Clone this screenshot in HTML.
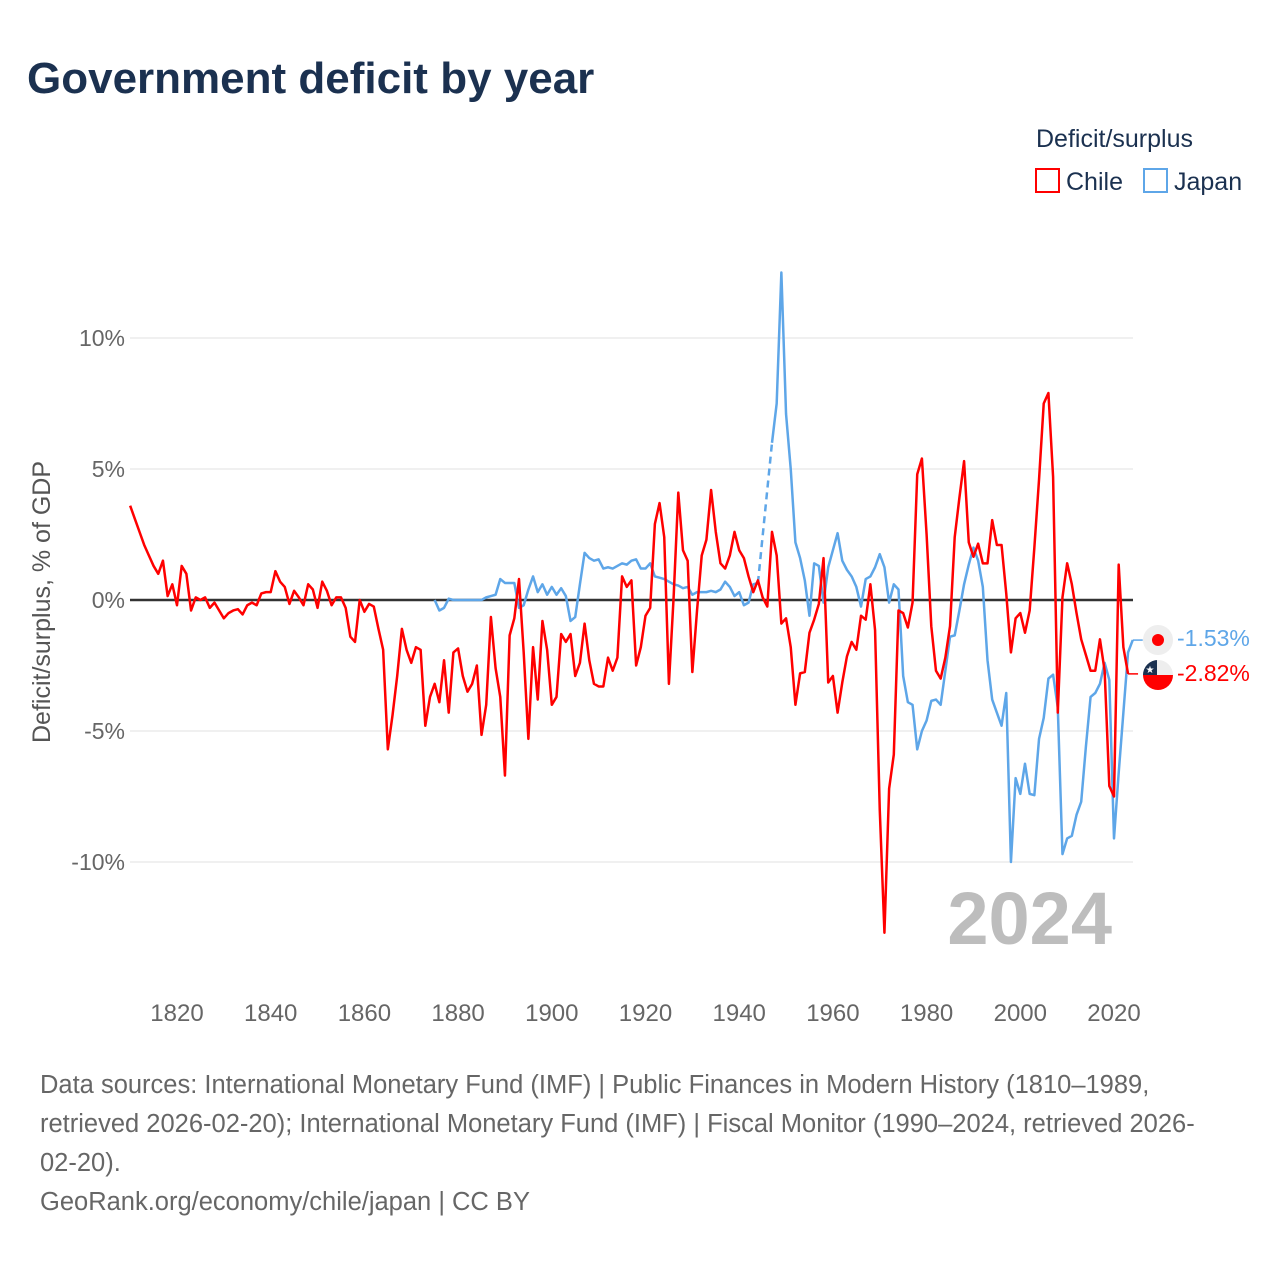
<!DOCTYPE html>
<html><head><meta charset="utf-8"><style>
body{margin:0;background:#fff;width:1280px;height:1280px;overflow:hidden;font-family:"Liberation Sans",sans-serif}
</style></head><body>
<svg width="1280" height="1280" viewBox="0 0 1280 1280" xmlns="http://www.w3.org/2000/svg">
<text x="27" y="93" font-size="44" font-weight="bold" fill="#1b3150">Government deficit by year</text>
<text x="1036" y="147" font-size="25" fill="#1b3150">Deficit/surplus</text>
<g><rect x="1036" y="169" width="23" height="23" fill="none" stroke="#ff0000" stroke-width="2"/><text x="1066" y="190" font-size="25" fill="#1b3150">Chile</text></g>
<g><rect x="1144" y="169" width="23" height="23" fill="none" stroke="#5ea6e8" stroke-width="2"/><text x="1174" y="190" font-size="25" fill="#1b3150">Japan</text></g>
<text transform="translate(50,602) rotate(-90)" text-anchor="middle" font-size="25" fill="#555">Deficit/surplus, % of GDP</text>
<g id="grid"></g><g id="xt"></g>
<g id="lines"></g>
<text x="1112" y="944" text-anchor="end" font-size="74" font-weight="bold" fill="#bdbdbd">2024</text>
<g><circle cx="1158" cy="640" r="15" fill="#eee"/><circle cx="1158" cy="640" r="6" fill="#ff0000"/><text x="1177" y="646" font-size="23" fill="#5ea6e8">-1.53%</text></g>
<g><clipPath id="cc"><circle cx="1158" cy="675" r="15"/></clipPath><g clip-path="url(#cc)"><rect x="1143" y="660" width="30" height="15" fill="#eee"/><rect x="1143" y="675" width="30" height="15" fill="#ff0000"/><rect x="1143" y="660" width="14" height="15" fill="#1b3150"/><text x="1150" y="673" font-size="10" fill="#fff" text-anchor="middle">★</text></g><text x="1177" y="681" font-size="23" fill="#ff0000">-2.82%</text></g>
<g font-size="25.5" fill="#666">
<text x="40" y="1093">Data sources: International Monetary Fund (IMF) | Public Finances in Modern History (1810–1989,</text>
<text x="40" y="1132">retrieved 2026-02-20); International Monetary Fund (IMF) | Fiscal Monitor (1990–2024, retrieved 2026-</text>
<text x="40" y="1171">02-20).</text>
<text x="40" y="1210">GeoRank.org/economy/chile/japan | CC BY</text>
</g>
</svg>
<script>
const yTicks=[10,5,0,-5,-10];
const xTicks=[1820,1840,1860,1880,1900,1920,1940,1960,1980,2000,2020];
const chileStart=1810;
const chileValues=[3.6,3.1,2.6,2.1,1.7,1.3,1.0,1.5,0.15,0.6,-0.2,1.3,1.0,-0.4,0.1,0,0.1,-0.3,-0.1,-0.4,-0.7,-0.5,-0.4,-0.35,-0.55,-0.2,-0.1,-0.2,0.25,0.3,0.3,1.1,0.7,0.5,-0.15,0.35,0.1,-0.2,0.6,0.4,-0.3,0.7,0.35,-0.2,0.1,0.1,-0.3,-1.4,-1.6,0,-0.45,-0.15,-0.25,-1.1,-1.9,-5.7,-4.4,-2.9,-1.1,-1.9,-2.4,-1.8,-1.9,-4.8,-3.7,-3.2,-3.9,-2.3,-4.3,-2.0,-1.85,-2.9,-3.5,-3.2,-2.5,-5.15,-4.0,-0.65,-2.6,-3.7,-6.7,-1.35,-0.7,0.8,-2.0,-5.3,-1.8,-3.8,-0.8,-1.9,-4.0,-3.7,-1.3,-1.6,-1.3,-2.9,-2.4,-0.9,-2.3,-3.2,-3.3,-3.3,-2.2,-2.7,-2.2,0.9,0.5,0.75,-2.5,-1.8,-0.6,-0.3,2.9,3.7,2.4,-3.2,0.1,4.1,1.9,1.5,-2.75,-0.4,1.7,2.3,4.2,2.6,1.4,1.2,1.7,2.6,1.9,1.6,0.9,0.3,0.75,0.1,-0.25,2.6,1.7,-0.9,-0.7,-1.8,-4.0,-2.8,-2.75,-1.25,-0.75,-0.15,1.6,-3.15,-2.9,-4.3,-3.15,-2.15,-1.6,-1.9,-0.6,-0.75,0.6,-1.15,-8.0,-12.7,-7.2,-5.9,-0.4,-0.5,-1.05,-0.1,4.8,5.4,2.5,-1.0,-2.7,-3.0,-2.2,-1.0,2.4,3.9,5.3,2.2,1.65,2.15,1.4,1.4,3.05,2.1,2.1,0.25,-2.0,-0.7,-0.5,-1.25,-0.4,2.0,4.6,7.5,7.9,4.7,-4.3,0.1,1.4,0.6,-0.5,-1.5,-2.1,-2.7,-2.7,-1.5,-2.7,-7.1,-7.5,1.35,-1.8,-2.82];
const japanStart=1875;
const japanValues=[0,-0.4,-0.3,0.05,0,0,0,0,0,0,0,0.1,0.15,0.2,0.8,0.65,0.65,0.65,-0.3,-0.2,0.4,0.9,0.3,0.6,0.2,0.5,0.2,0.45,0.15,-0.8,-0.65,0.6,1.8,1.6,1.5,1.55,1.2,1.25,1.2,1.3,1.4,1.35,1.5,1.55,1.2,1.2,1.4,0.9,0.85,0.8,0.7,0.6,0.55,0.45,0.5,0.2,0.3,0.3,0.3,0.35,0.3,0.4,0.7,0.5,0.15,0.3,-0.2,-0.1,0.6,0.65,null,null,6.0,7.5,12.5,7.1,5.0,2.2,1.6,0.75,-0.6,1.4,1.3,-0.1,1.25,1.9,2.55,1.5,1.15,0.9,0.5,-0.25,0.8,0.9,1.25,1.75,1.25,-0.1,0.6,0.4,-2.9,-3.9,-4.0,-5.7,-5.0,-4.6,-3.85,-3.8,-4.0,-2.7,-1.4,-1.35,-0.4,0.6,1.35,2.0,1.5,0.5,-2.3,-3.8,-4.3,-4.8,-3.55,-10.0,-6.8,-7.4,-6.25,-7.4,-7.45,-5.3,-4.5,-3.0,-2.85,-4.1,-9.7,-9.1,-9.0,-8.2,-7.7,-5.6,-3.7,-3.55,-3.2,-2.4,-3.05,-9.1,-6.6,-4.3,-2.0,-1.53];
const X=yr=>177+(yr-1820)*(937/200);
const Y=v=>600-v*26.2;
const NS='http://www.w3.org/2000/svg';
function mk(tag,attrs,parent){const e=document.createElementNS(NS,tag);for(const k in attrs)e.setAttribute(k,attrs[k]);parent.appendChild(e);return e;}
const grid=document.getElementById('grid');
yTicks.forEach(t=>{
  const l=mk('line',{x1:130,x2:1133,y1:Y(t),y2:Y(t),stroke:'#ebebeb','stroke-width':1.5},grid);
  
  
  const tx=mk('text',{x:125,y:Y(t)+8,'text-anchor':'end','font-size':23,fill:'#666'},grid);
  tx.textContent=t+'%';
  
  
});
const xt=document.getElementById('xt');
xTicks.forEach(t=>{
  const tx=mk('text',{x:X(t),y:1021,'text-anchor':'middle','font-size':24,fill:'#666'},xt);
  tx.textContent=t;
  
  
});
const lines=document.getElementById('lines');
const zl=mk('line',{x1:130,x2:1133,y1:Y(0),y2:Y(0),stroke:'#333','stroke-width':2.5},lines);


function draw(start,vals,color,name){
  let segs=[],cur=[];
  vals.forEach((v,i)=>{if(v===null){if(cur.length)segs.push(cur);cur=[];}else cur.push([X(start+i),Y(v)]);});
  if(cur.length)segs.push(cur);
  segs.forEach(s=>{
    const p=mk('polyline',{points:s.map(q=>q.join(',')).join(' '),fill:'none',stroke:color,'stroke-width':2.5,'stroke-linejoin':'round'},lines);
    
    
  });
  for(let i=0;i<segs.length-1;i++){
    const a=segs[i][segs[i].length-1],b=segs[i+1][0];
    const d=mk('line',{x1:a[0],y1:a[1],x2:b[0],y2:b[1],stroke:color,'stroke-width':2.5,'stroke-dasharray':'7,5'},lines);
    
    
  }
  const last=segs[segs.length-1];const e=last[last.length-1];
  const c=mk('polyline',{points:e[0]+','+e[1]+' '+(e[0]+10)+','+e[1],fill:'none',stroke:color,'stroke-width':1.5},lines);
  
  
}
draw(japanStart,japanValues,'#5ea6e8','japan');
draw(chileStart,chileValues,'#ff0000','chile');
</script>
</body></html>
